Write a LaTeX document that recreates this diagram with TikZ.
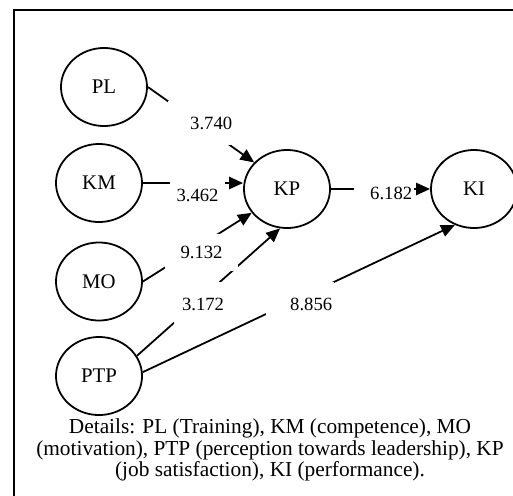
\documentclass[tikz,border=0pt]{standalone}
\usepackage{fontspec}
\setmainfont{Liberation Serif}
\usepackage{tikz}
\usetikzlibrary{arrows.meta, shapes.geometric}
\tikzstyle{var}   = [ellipse, draw=black, line width=1pt, inner sep=0pt,
                     minimum width=48.4pt, minimum height=43.9pt, font=\fontsize{11.7}{13}\selectfont]
\tikzstyle{val}   = [rectangle, fill=white, inner xsep=1pt, inner ysep=0pt,
                     font=\fontsize{10.5}{12}\selectfont]
\tikzstyle{arr}   = [-{Triangle[length=7.8pt, width=6.8pt]}, line width=1pt]
\tikzstyle{notes} = [align=center, inner sep=0pt, font=\fontsize{12}{12.1}\selectfont]

\begin{document}
\begin{tikzpicture}[x=0.5625pt, y=0.5625pt]
    \useasboundingbox (0,0) rectangle (513,495);
    \clip (0,0) rectangle (513,495);
    \draw[line width=1.1pt] (14,485) rectangle (530,-20);

    \node[var] (PL)  at (104,408)  {PL};
    \node[var] (KM)  at (99,312)   {KM};
    \node[var] (MO)  at (99,213.5) {MO};
    \node[var] (PTP) at (99,119)   {PTP};
    \node[var] (KP)  at (287,306)  {KP};
    \node[var] (KI)  at (474,306)  {KI};

    \draw[arr] (PL.east) -- (KP.141);
    \draw[arr] (KM.east) -- (KM.east -| KP.west);
    \draw[arr] (MO.east) -- (KP.214);
    \draw[arr] (PTP.28)  -- (KP.260);
    \draw[arr] (PTP.5)   -- (KI.242);
    \draw[arr] (KP.east) -- (KI.west);

    \node[val, text width=35.1pt, align=right,  minimum height=24.75pt] (w1) at (201,372)   {3.740};
    \node[val, text width=28.9pt, align=center, minimum height=17pt]    (w2) at (197.5,300) {3.462};
    \node[val, text width=31.75pt, align=right, minimum height=11.25pt] (w3) at (384,302)   {6.182};
    \node[val, text width=39.1pt, align=center, minimum height=20.8pt]  (w4) at (201.5,242.5) {9.132};
    \node[val, text width=30.6pt, align=center, minimum height=24.75pt] (w5) at (203,191)   {3.172};
    \node[val, text width=36.25pt, align=right, minimum height=24.75pt] (w6) at (300,191)   {8.856};

    \node[notes] (legend) at (270,45) {Details: PL (Training), KM (competence), MO\\
        (motivation), PTP (perception towards leadership), KP\\
        (job satisfaction), KI (performance).};
\end{tikzpicture}
\end{document}
